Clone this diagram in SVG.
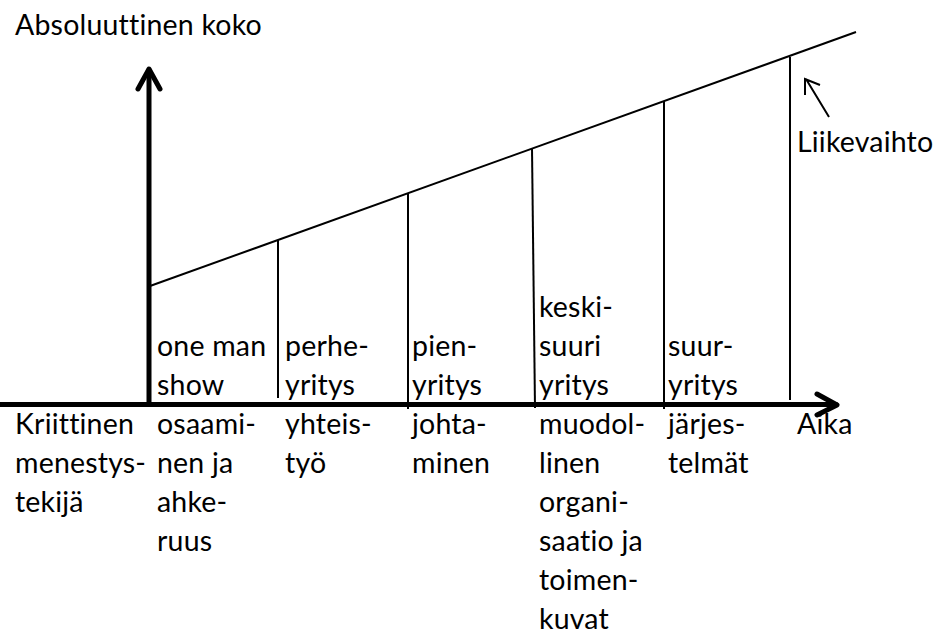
<svg xmlns="http://www.w3.org/2000/svg" width="933" height="636" viewBox="0 0 933 636">
<style>
text{font-family:Lato,"Open Sans",sans-serif;font-size:28.5px;letter-spacing:0.2px;font-variant-ligatures:none;fill:#000}
.ax{stroke:#000;stroke-width:5;fill:none;stroke-linecap:round;stroke-linejoin:round}
.th{stroke:#000;stroke-width:2;fill:none}
</style>
<rect width="933" height="636" fill="#fff"/>
<g id="connectors">
<path class="th" d="M150 286 L856 32"/>
<path class="th" d="M278 240 L278 398"/>
<path class="th" d="M408 193 L408 409"/>
<path class="th" d="M532 148 L535 408"/>
<path class="th" d="M664 101 L664 409"/>
<path class="th" d="M790 57 L790 400"/>
<path class="ax" d="M149 404 L149 70"/>
<path class="ax" d="M138 89 L149 69 L160 89"/>
<path class="ax" d="M0 404.5 L836 404.5"/>
<path class="ax" d="M817 394 L837 405 L817 415"/>
<path class="th" d="M829 117 L806 79 M805 95 L805 79 L820 85"/>
</g>
<g id="y-label"><text x="15" y="35">Absoluuttinen koko</text></g>
<g id="liikevaihto"><text x="797" y="152">Liikevaihto</text></g>
<g id="aika"><text x="797" y="434">Aika</text></g>
<g id="kriittinen"><text x="15" y="434">Kriittinen</text><text x="15" y="473">menestys-</text><text x="15" y="512">tekijä</text></g>
<g id="one-man-show"><text x="157" y="356">one man</text><text x="157" y="395">show</text><text x="157" y="434">osaami-</text><text x="157" y="473">nen ja</text><text x="157" y="512">ahke-</text><text x="157" y="551">ruus</text></g>
<g id="perheyritys"><text x="285" y="356">perhe-</text><text x="285" y="395">yritys</text><text x="285" y="434">yhteis-</text><text x="285" y="473">työ</text></g>
<g id="pienyritys"><text x="412" y="356">pien-</text><text x="412" y="395">yritys</text><text x="412" y="434">johta-</text><text x="412" y="473">minen</text></g>
<g id="keskisuuri"><text x="539" y="317">keski-</text><text x="539" y="356">suuri</text><text x="539" y="395">yritys</text><text x="539" y="434">muodol-</text><text x="539" y="473">linen</text><text x="539" y="512">organi-</text><text x="539" y="551">saatio ja</text><text x="539" y="590">toimen-</text><text x="539" y="629">kuvat</text></g>
<g id="suuryritys"><text x="668" y="356">suur-</text><text x="668" y="395">yritys</text><text x="668" y="434">järjes-</text><text x="668" y="473">telmät</text></g>
</svg>
